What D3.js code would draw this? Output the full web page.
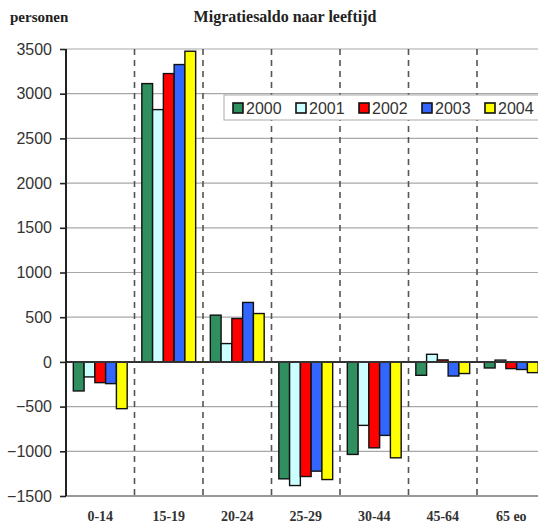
<!DOCTYPE html>
<html>
<head>
<meta charset="utf-8">
<script src="https://cdn.jsdelivr.net/npm/d3@7"></script>
<style>
  html, body { margin: 0; padding: 0; background: #fff; }
  svg { display: block; }
</style>
</head>
<body>
<svg id="chart" width="538" height="524"></svg>
<script>
// Age groups along the x axis
const categories = ["0-14", "15-19", "20-24", "25-29", "30-44", "45-64", "65 eo"];
const years = ["2000", "2001", "2002", "2003", "2004"];

// Net migration (persons) per age group, one array per year
const v2000 = [-325, 3113, 523, -1308, -1035, -150, -68];
const v2001 = [-168, 2822, 205, -1383, -710, 85, 20];
const v2002 = [-232, 3225, 485, -1282, -961, 22, -75];
const v2003 = [-243, 3326, 665, -1222, -822, -158, -85];
const v2004 = [-523, 3475, 541, -1316, -1073, -130, -120];
const seriesValues = [v2000, v2001, v2002, v2003, v2004];

const yTicks = [-1500, -1000, -500, 0, 500, 1000, 1500, 2000, 2500, 3000, 3500];
const colors = ["#2f8f5f", "#ccffff", "#ff0000", "#3366ff", "#ffff00"];

const svg = d3.select("#chart");

const plotLeft = 66, plotTop = 49, plotBottom = 496;
const catStep = 68.5;

const x0 = d3.scaleBand()
  .domain(categories)
  .range([plotLeft, plotLeft + catStep * categories.length])
  .padding(0);

const x1 = d3.scaleBand()
  .domain(years)
  .range([0, x0.bandwidth()])
  .paddingInner(0)
  .paddingOuter(0.68);

const y = d3.scaleLinear()
  .domain([-1500, 3500])
  .range([plotBottom, plotTop]);

// Horizontal gridlines
svg.append("g")
  .selectAll("line")
  .data(yTicks.filter(t => t !== 0 && t !== -1500))
  .join("line")
  .attr("x1", plotLeft).attr("x2", 538)
  .attr("y1", d => y(d)).attr("y2", d => y(d))
  .attr("stroke", "#a8a8a8").attr("stroke-width", 1.2);

// Dashed separators between age groups
svg.append("g")
  .selectAll("line")
  .data(categories.slice(1))
  .join("line")
  .attr("x1", d => x0(d)).attr("x2", d => x0(d))
  .attr("y1", plotTop).attr("y2", plotBottom + 4)
  .attr("stroke", "#555").attr("stroke-width", 1.6)
  .attr("stroke-dasharray", "6,5");

// Bottom axis line
svg.append("line")
  .attr("x1", plotLeft).attr("x2", 538)
  .attr("y1", y(-1500)).attr("y2", y(-1500))
  .attr("stroke", "#777").attr("stroke-width", 1.6);

// Legend
const legend = svg.append("g");
legend.append("rect")
  .attr("x", 224).attr("y", 95).attr("width", 330).attr("height", 25)
  .attr("fill", "#fff").attr("stroke", "#aaa").attr("stroke-width", 1);

// Bars
const groups = svg.append("g")
  .selectAll("g")
  .data(seriesValues)
  .join("g")
  .attr("fill", (d, i) => colors[i]);

groups.selectAll("rect")
  .data((vals, i) => vals.map((v, j) => ({ cat: categories[j], year: years[i], v })))
  .join("rect")
  .attr("x", d => x0(d.cat) + x1(d.year))
  .attr("width", x1.bandwidth())
  .attr("y", d => y(Math.max(0, d.v)))
  .attr("height", d => Math.abs(y(d.v) - y(0)))
  .attr("stroke", "#111").attr("stroke-width", 1.4);

// Zero line
svg.append("line")
  .attr("x1", plotLeft).attr("x2", 538)
  .attr("y1", y(0)).attr("y2", y(0))
  .attr("stroke", "#333").attr("stroke-width", 2);

// Y axis
const yAxis = svg.append("g")
  .attr("transform", `translate(${plotLeft},0)`)
  .call(d3.axisLeft(y).tickValues(yTicks).tickSize(6).tickPadding(8).tickFormat(d3.format("d")));
yAxis.select(".domain").attr("stroke", "#222").attr("stroke-width", 2)
  .attr("d", `M0,${plotTop}V${plotBottom}`);
yAxis.selectAll(".tick line").attr("stroke", "#222").attr("stroke-width", 1.6);
yAxis.selectAll(".tick text")
  .attr("font-family", "Liberation Sans, Arial, sans-serif")
  .attr("font-size", 16).attr("fill", "#333");

// X labels
svg.append("g")
  .selectAll("text")
  .data(categories)
  .join("text")
  .attr("x", d => x0(d) + x0.bandwidth() / 2)
  .attr("y", 521)
  .attr("text-anchor", "middle")
  .attr("font-family", "Liberation Serif, Times New Roman, serif")
  .attr("font-weight", "bold")
  .attr("font-size", 14)
  .attr("fill", "#333")
  .text(d => d);

// Legend entries
const items = legend.selectAll("g.item")
  .data(years)
  .join("g")
  .attr("class", "item")
  .attr("transform", (d, i) => `translate(${233 + i * 63},0)`);
items.append("rect")
  .attr("x", 0).attr("y", 103).attr("width", 10).attr("height", 10)
  .attr("fill", (d, i) => colors[i])
  .attr("stroke", "#111").attr("stroke-width", 1.6);
items.append("text")
  .attr("x", 13).attr("y", 113.5)
  .attr("font-family", "Liberation Sans, Arial, sans-serif")
  .attr("font-size", 16).attr("fill", "#333")
  .text(d => d);

// Title and unit label
svg.append("text")
  .attr("x", 285).attr("y", 22)
  .attr("text-anchor", "middle")
  .attr("font-family", "Liberation Serif, Times New Roman, serif")
  .attr("font-weight", "bold").attr("font-size", 16).attr("fill", "#222")
  .text("Migratiesaldo naar leeftijd");

svg.append("text")
  .attr("x", 10).attr("y", 22)
  .attr("font-family", "Liberation Serif, Times New Roman, serif")
  .attr("font-weight", "bold").attr("font-size", 15).attr("fill", "#222")
  .text("personen");
</script>
</body>
</html>
